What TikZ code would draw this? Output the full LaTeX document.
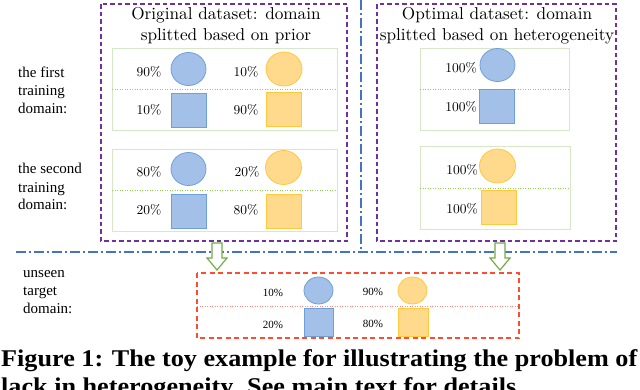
\documentclass[tikz,border=0pt]{standalone}
\usepackage{fontspec}
\newfontfamily\timesf{Liberation Serif}
\newfontfamily\capfontfam{Liberation Serif}
\newfontfamily\lmten{lmroman10-regular.otf}
\usetikzlibrary{shapes.geometric}
\definecolor{pur}{HTML}{7030A0}
\definecolor{gbox}{HTML}{D5E8C8}
\definecolor{gdot}{HTML}{92D050}
\definecolor{bfill}{HTML}{A3C1E8}
\definecolor{bdraw}{HTML}{6F9FD8}
\definecolor{ofill}{HTML}{FFD98C}
\definecolor{odraw}{HTML}{FFC83D}
\definecolor{bline}{HTML}{4472C4}
\definecolor{garrow}{HTML}{70AD47}
\definecolor{rline}{HTML}{FF4B2E}
\definecolor{rdot}{HTML}{FF8A80}
\newsavebox\capbox
\begin{document}
\sbox\capbox{\capfontfam\bfseries\fontsize{24}{28}\selectfont Figure 1: The toy example for illustrating the problem of}
\edef\capw{\the\wd\capbox}
\pgfmathsetmacro\capsx{636/\capw}
\begin{tikzpicture}[x=1pt,y=-1pt,
  purplebox/.style={draw=pur, dash pattern=on 4.5pt off 3pt, line width=1.3pt},
  greenbox/.style={draw=gbox, line width=1pt},
  greendiv/.style={draw=gdot, dash pattern=on 1pt off 1.5pt, line width=0.8pt},
  redbox/.style={draw=rline, dash pattern=on 5pt off 3.5pt, line width=1.4pt},
  reddiv/.style={draw=rdot, dash pattern=on 1pt off 1.5pt, line width=0.8pt},
  bluesep/.style={draw=bline, dash pattern=on 10pt off 3pt on 2pt off 3pt, line width=1.2pt},
  garrowst/.style={draw=garrow, fill=white, line width=1.2pt, line join=miter},
  bcirc/.style={ellipse, draw=bdraw, fill=bfill, line width=0.8pt, minimum width=35, minimum height=33, inner sep=0},
  ocirc/.style={ellipse, draw=odraw, fill=ofill, line width=0.8pt, minimum width=36, minimum height=34, inner sep=0},
  bsq/.style={rectangle, draw=bdraw, fill=bfill, line width=0.8pt, minimum width=35, minimum height=34, inner sep=0},
  osq/.style={rectangle, draw=odraw, fill=ofill, line width=0.8pt, minimum width=35, minimum height=34, inner sep=0},
  bcircs/.style={bcirc, minimum width=29, minimum height=27},
  ocircs/.style={ocirc, minimum width=29, minimum height=27},
  bsqs/.style={bsq, minimum width=29, minimum height=28},
  osqs/.style={osq, minimum width=30, minimum height=28},
  pct/.style={inner sep=0, font=\lmten\fontsize{13.5}{16}\selectfont},
  pcts/.style={inner sep=0, font=\timesf\fontsize{11}{13}\selectfont},
  title/.style={anchor=base, inner sep=0, font=\lmten\fontsize{17.2}{21}\selectfont},
  side/.style={anchor=base west, inner sep=0, font=\timesf\fontsize{15}{18}\selectfont}
]
\useasboundingbox (0,0) rectangle (640,389);
\clip (0,0) rectangle (640,389);

% separators
\draw[bluesep] (16,252) -- (617,252);
\draw[bluesep] (361,0) -- (361,252);

% purple boxes
\draw[purplebox] (101,4) rectangle (347,241);
\draw[purplebox] (377,4) rectangle (616,241);

% titles
\node[title] (t1a) at (226,19) {Original dataset: domain};
\node[title] (t1b) at (226,40) {splitted based on prior};
\node[title] (t2a) at (497,19) {Optimal dataset: domain};
\node[title] (t2b) at (497,40) {splitted based on heterogeneity};

% side labels
\node[side] (l1a) at (18,77) {the first};
\node[side] (l1b) at (18,95) {training};
\node[side] (l1c) at (18,113) {domain:};
\node[side] (l2a) at (18,173) {the second};
\node[side] (l2b) at (18,192) {training};
\node[side] (l2c) at (18,209) {domain:};
\node[side] (l3a) at (23,277) {unseen};
\node[side] (l3b) at (23,295) {target};
\node[side] (l3c) at (23,313) {domain:};

% left green boxes
\draw[greenbox] (112,48) rectangle (337,130);
\draw[greendiv] (112,89) -- (337,89);
\draw[greenbox] (112,149) rectangle (337,231);
\draw[greendiv] (112,190) -- (337,190);

\node[bcirc] (c11) at (188.5,69) {};
\node[ocirc] (o11) at (284,69) {};
\node[bsq] (s11) at (188.5,110) {};
\node[osq] (q11) at (283.5,109.5) {};
\node[pct] (p11) at (149,72) {90\%};
\node[pct] (p12) at (246,72) {10\%};
\node[pct] (p13) at (149,109.5) {10\%};
\node[pct] (p14) at (246,109.5) {90\%};

\node[bcirc] (c21) at (188.5,169) {};
\node[ocirc] (o21) at (283.5,167.5) {};
\node[bsq] (s21) at (188.5,211.5) {};
\node[osq] (q21) at (284,211.5) {};
\node[pct] (p21) at (149,172) {80\%};
\node[pct] (p22) at (247,172) {20\%};
\node[pct] (p23) at (149,210) {20\%};
\node[pct] (p24) at (246,210) {80\%};

% right green boxes
\draw[greenbox] (420,48) rectangle (569,130);
\draw[greendiv] (420,89) -- (569,89);
\draw[greenbox] (420,146) rectangle (570,229);
\draw[greendiv] (420,188) -- (570,188);

\node[bcirc] (c31) at (497.5,65) {};
\node[bsq] (s31) at (496.5,106.5) {};
\node[pct] (p31) at (461,68) {100\%};
\node[pct] (p32) at (461,107) {100\%};

\node[ocirc] (o41) at (497.5,166) {};
\node[osq] (q41) at (498.5,207.5) {};
\node[pct] (p41) at (462,170) {100\%};
\node[pct] (p42) at (462,209) {100\%};

% arrows
\coordinate (la) at (217,243);
\coordinate (ra) at (500,243);
\draw[garrowst] (la) ++(-5,0) -- ++(10,0) -- ++(0,15) -- ++(5,0) -- ++(-10,12) -- ++(-10,-12) -- ++(5,0) -- cycle;
\draw[garrowst] (ra) ++(-5,0) -- ++(10,0) -- ++(0,15) -- ++(5,0) -- ++(-10,12) -- ++(-10,-12) -- ++(5,0) -- cycle;

% target box
\draw[redbox] (197,273) rectangle (519,338);
\draw[reddiv] (197,306) -- (519,306);
\node[bcircs] (c51) at (318.5,290.5) {};
\node[ocircs] (o51) at (412.5,290.5) {};
\node[bsqs] (s51) at (318.5,322) {};
\node[osqs] (q51) at (413,322) {};
\node[pcts] (p51) at (273,293) {10\%};
\node[pcts] (p52) at (273,325) {20\%};
\node[pcts] (p53) at (373,292) {90\%};
\node[pcts] (p54) at (373,324) {80\%};

% caption
\node[anchor=base west, inner sep=0] (cap1) at (1,366) {\scalebox{\capsx}[1]{\usebox\capbox}};
\node[anchor=base west, inner sep=0] (cap2) at (1,394) {\scalebox{\capsx}[1]{\capfontfam\bfseries\fontsize{24}{28}\selectfont lack in heterogeneity. See main text for details.}};
\end{tikzpicture}
\end{document}
